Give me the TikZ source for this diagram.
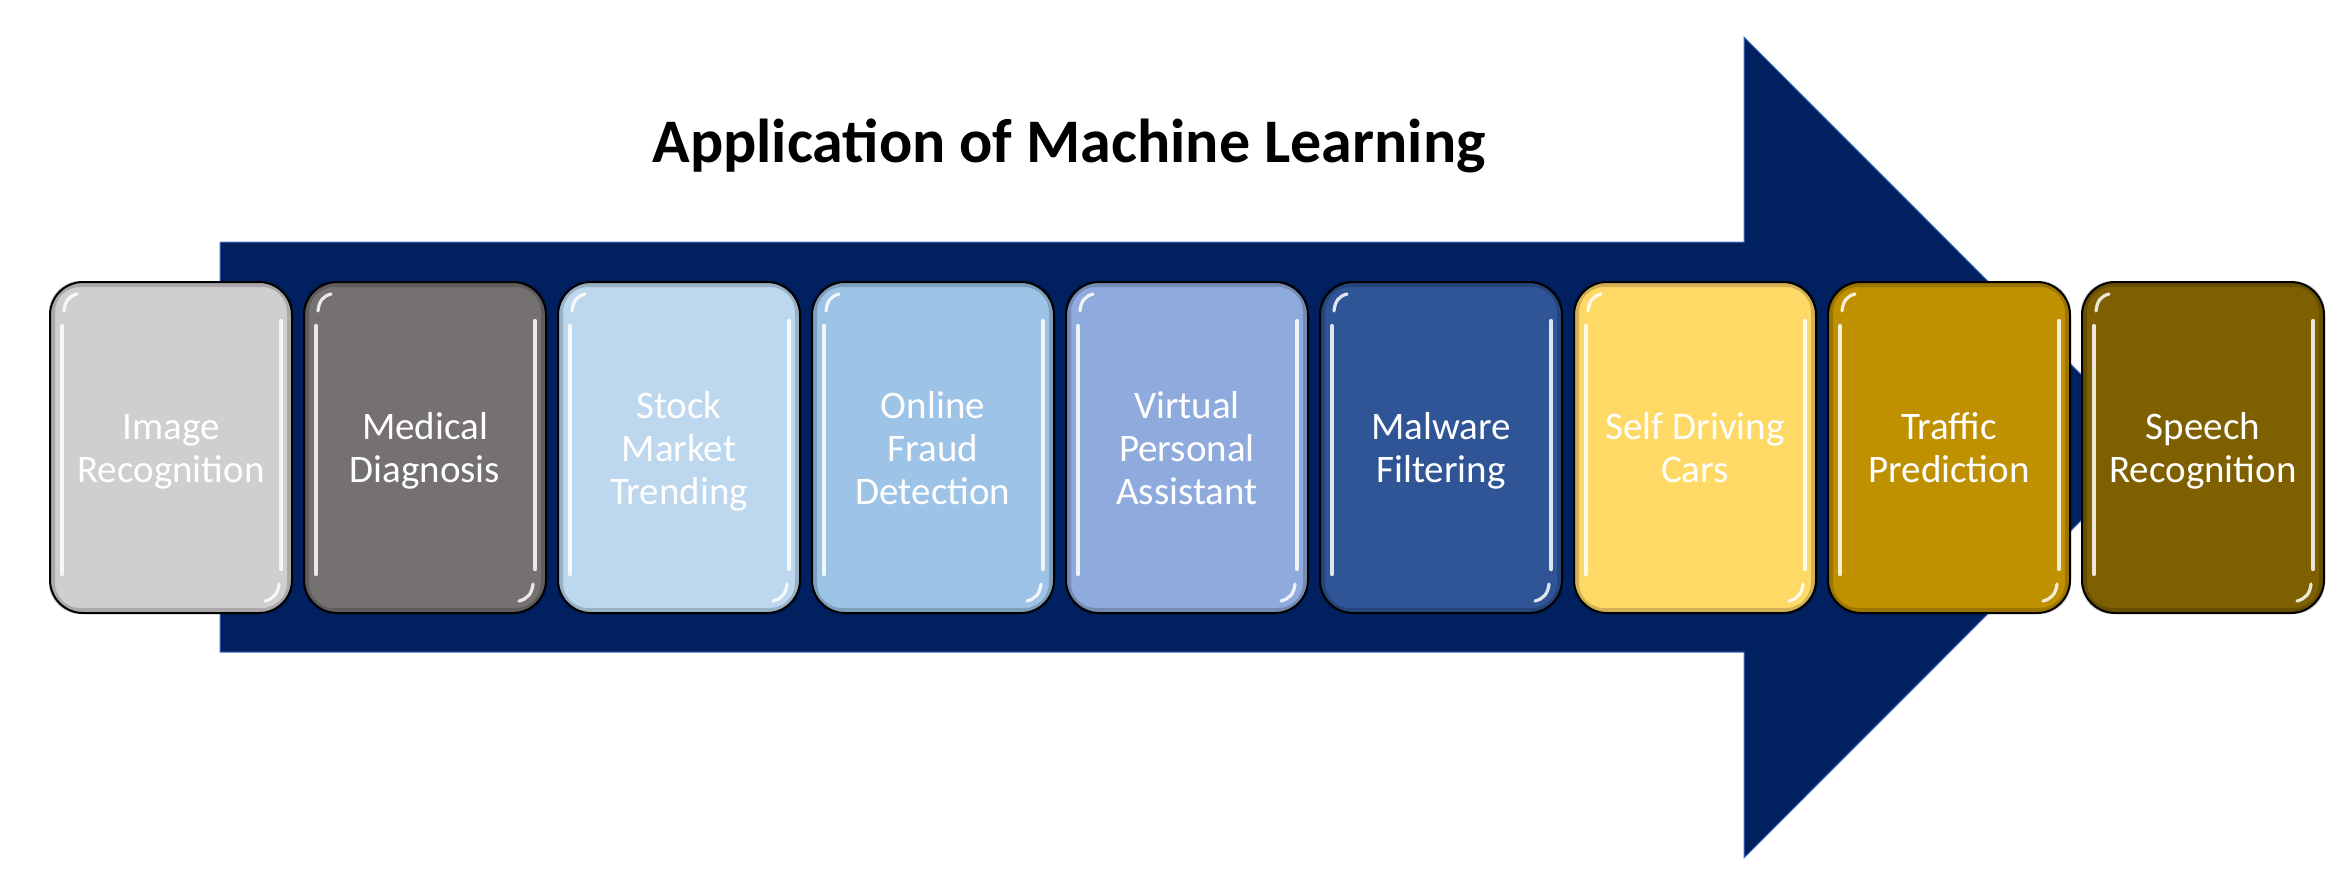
\documentclass[tikz,border=0pt]{standalone}
\usepackage{fontspec}
\setmainfont{Carlito}
\definecolor{navy}{HTML}{002060}
\definecolor{navyedge}{HTML}{4472C4}
\definecolor{c1}{HTML}{D0CECE}
\definecolor{c2}{HTML}{767171}
\definecolor{c3}{HTML}{BDD7EE}
\definecolor{c4}{HTML}{9DC3E6}
\definecolor{c5}{HTML}{8FAADC}
\definecolor{c6}{HTML}{2F5597}
\definecolor{c7}{HTML}{FFD966}
\definecolor{c8}{HTML}{BF9000}
\definecolor{c9}{HTML}{7F6000}
\begin{document}
\begin{tikzpicture}[x=0.5pt,y=-0.5pt,
  box/.style={draw=black, line width=1pt, rounded corners=16.5pt,
    minimum width=121pt, minimum height=165.5pt, inner sep=0pt},
  boxtext/.style={align=center, text=white, inner sep=0pt,
    font=\fontsize{19.5}{21.5}\selectfont},
  rim/.style={draw=black, draw opacity=0.18, line width=3pt, rounded corners=14pt},
  hl/.style={draw=white, draw opacity=0.85, line width=2.2pt, line cap=round},
  title/.style={font=\bfseries\fontsize{31}{37}\selectfont, text=black}]
\useasboundingbox (0,0) rectangle (2341,885);
% big arrow
\fill[navy, draw=navyedge, line width=0.5pt]
  (220,242) -- (1744,242) -- (1744,37) -- (2154,447.5) -- (1744,858) -- (1744,652) -- (220,652) -- cycle;
% title
\node[title] (title) at (1069,146) {Application of Machine Learning};
% boxes
\foreach \i/\col/\txt in {
  1/c1/{Image\\Recognition},
  2/c2/{Medical\\Diagnosis},
  3/c3/{Stock\\Market\\Trending},
  4/c4/{Online\\Fraud\\Detection},
  5/c5/{Virtual\\Personal\\Assistant},
  6/c6/{Malware\\Filtering},
  7/c7/{Self Driving\\Cars},
  8/c8/{Traffic\\Prediction},
  9/c9/{Speech\\Recognition}}{
  \node[box, fill=\col] (b\i) at ({171+254*(\i-1)}, 447.5) {};
  \draw[rim] ([shift={(3,3)}]b\i.north west) rectangle ([shift={(-3,-3)}]b\i.south east);
  % left highlight with top-left corner arc
  \draw[hl] ([shift={(13,-40)}]b\i.south west) -- ([shift={(13,45)}]b\i.north west);
  \draw[hl, line width=1.6pt] ([shift={(15,30)}]b\i.north west) .. controls ([shift={(16,20)}]b\i.north west) and ([shift={(20,15)}]b\i.north west) .. ([shift={(28,13)}]b\i.north west);
  % right highlight with bottom-right corner arc
  \draw[hl] ([shift={(-12,40)}]b\i.north east) -- ([shift={(-12,-45)}]b\i.south east);
  \draw[hl, line width=1.6pt] ([shift={(-14,-30)}]b\i.south east) .. controls ([shift={(-15,-20)}]b\i.south east) and ([shift={(-20,-15)}]b\i.south east) .. ([shift={(-28,-13)}]b\i.south east);
  \node[boxtext] (t\i) at ([yshift=-2.5pt]b\i.center) {\strut\txt\strut};
}
\end{tikzpicture}
\end{document}
